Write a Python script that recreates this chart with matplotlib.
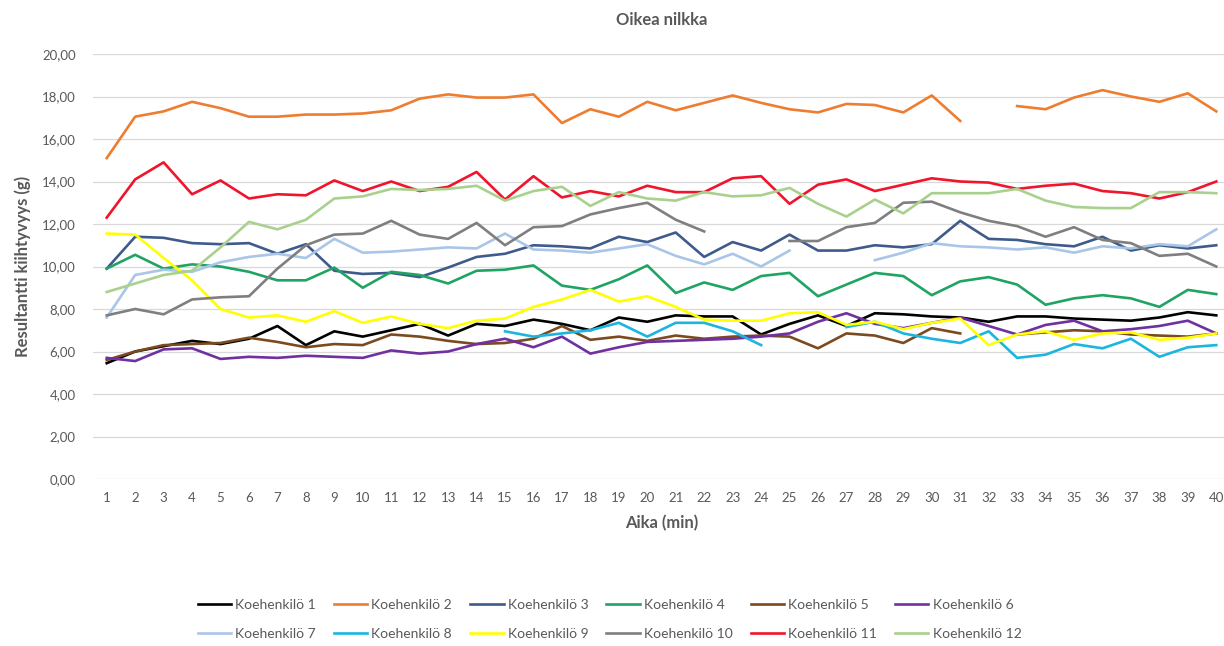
import numpy as np
import matplotlib
matplotlib.use("Agg")
import matplotlib.pyplot as plt
from matplotlib.ticker import FuncFormatter, MultipleLocator

nan = np.nan
minutes = list(range(1, 41))

s1 = [5.45, 6.0, 6.25, 6.5, 6.35, 6.6, 7.2, 6.3, 6.95, 6.7, 7.0, 7.3, 6.75, 7.3, 7.2, 7.5, 7.3, 7.0, 7.6, 7.4,
      7.7, 7.65, 7.65, 6.8, 7.3, 7.7, 7.2, 7.8, 7.75, 7.65, 7.6, 7.4, 7.65, 7.65, 7.55, 7.5, 7.45, 7.6, 7.85, 7.7]
s2 = [15.1, 17.05, 17.3, 17.75, 17.45, 17.05, 17.05, 17.15, 17.15, 17.2, 17.35, 17.9, 18.1, 17.95, 17.95, 18.1, 16.75, 17.4, 17.05, 17.75,
      17.35, 17.7, 18.05, 17.7, 17.4, 17.25, 17.65, 17.6, 17.25, 18.05, 16.85, nan, 17.55, 17.4, 17.95, 18.3, 18.0, 17.75, 18.15, 17.3]
s3 = [9.9, 11.4, 11.35, 11.1, 11.05, 11.1, 10.6, 11.05, 9.8, 9.65, 9.7, 9.5, 9.95, 10.45, 10.6, 11.0, 10.95, 10.85, 11.4, 11.15,
      11.6, 10.45, 11.15, 10.75, 11.5, 10.75, 10.75, 11.0, 10.9, 11.05, 12.15, 11.3, 11.25, 11.05, 10.95, 11.4, 10.75, 11.0, 10.85, 11.0]
s4 = [9.9, 10.55, 9.9, 10.1, 10.0, 9.75, 9.35, 9.35, 9.95, 9.0, 9.75, 9.6, 9.2, 9.8, 9.85, 10.05, 9.1, 8.9, 9.4, 10.05,
      8.75, 9.25, 8.9, 9.55, 9.7, 8.6, 9.15, 9.7, 9.55, 8.65, 9.3, 9.5, 9.15, 8.2, 8.5, 8.65, 8.5, 8.1, 8.9, 8.7]
s5 = [5.6, 6.0, 6.3, 6.35, 6.4, 6.65, 6.45, 6.2, 6.35, 6.3, 6.8, 6.7, 6.5, 6.35, 6.4, 6.6, 7.2, 6.55, 6.7, 6.5,
      6.75, 6.6, 6.7, 6.75, 6.7, 6.15, 6.85, 6.75, 6.4, 7.1, 6.85, nan, 6.8, 6.9, 7.0, 6.95, 6.8, 6.75, 6.7, 6.85]
s6 = [5.7, 5.55, 6.1, 6.15, 5.65, 5.75, 5.7, 5.8, 5.75, 5.7, 6.05, 5.9, 6.0, 6.35, 6.6, 6.2, 6.7, 5.9, 6.2, 6.45,
      6.5, 6.55, 6.6, 6.7, 6.85, 7.4, 7.8, 7.3, 7.1, 7.35, 7.6, 7.2, 6.8, 7.25, 7.45, 6.95, 7.05, 7.2, 7.45, 6.85]
s7 = [7.6, 9.6, 9.85, 9.75, 10.2, 10.45, 10.6, 10.4, 11.3, 10.65, 10.7, 10.8, 10.9, 10.85, 11.55, 10.8, 10.75, 10.65, 10.85, 11.05,
      10.5, 10.1, 10.6, 10.0, 10.75, nan, nan, 10.3, 10.65, 11.1, 10.95, 10.9, 10.8, 10.9, 10.65, 10.95, 10.85, 11.05, 10.95, 11.75]
s8 = [nan, nan, nan, nan, nan, nan, nan, nan, nan, nan, nan, nan, nan, nan, 6.95, 6.7, 6.85, 7.0, 7.35, 6.7,
      7.35, 7.35, 6.95, 6.3, nan, nan, 7.15, 7.4, 6.85, 6.6, 6.4, 6.95, 5.7, 5.85, 6.35, 6.15, 6.6, 5.75, 6.2, 6.3]
s9 = [11.55, 11.5, 10.4, 9.35, 8.0, 7.6, 7.7, 7.4, 7.9, 7.35, 7.65, 7.3, 7.1, 7.45, 7.55, 8.1, 8.45, 8.9, 8.35, 8.6,
      8.1, 7.5, 7.45, 7.45, 7.8, 7.85, 7.25, 7.4, 7.05, 7.35, 7.55, 6.3, 6.8, 6.95, 6.55, 6.85, 6.9, 6.55, 6.65, 6.85]
s10 = [7.7, 8.0, 7.75, 8.45, 8.55, 8.6, 9.9, 11.0, 11.5, 11.55, 12.15, 11.5, 11.3, 12.05, 11.0, 11.85, 11.9, 12.45, 12.75, 13.0,
       12.2, 11.65, nan, nan, 11.2, 11.2, 11.85, 12.05, 13.0, 13.05, 12.55, 12.15, 11.9, 11.4, 11.85, 11.25, 11.1, 10.5, 10.6, 10.0]
s11 = [12.3, 14.1, 14.9, 13.4, 14.05, 13.2, 13.4, 13.35, 14.05, 13.55, 14.0, 13.55, 13.75, 14.45, 13.15, 14.25, 13.25, 13.55, 13.3, 13.8,
       13.5, 13.5, 14.15, 14.25, 12.95, 13.85, 14.1, 13.55, 13.85, 14.15, 14.0, 13.95, 13.65, 13.8, 13.9, 13.55, 13.45, 13.2, 13.5, 14.0]
s12 = [8.8, 9.2, 9.6, 9.8, 10.9, 12.1, 11.75, 12.2, 13.2, 13.3, 13.65, 13.6, 13.65, 13.8, 13.1, 13.55, 13.75, 12.85, 13.5, 13.2,
       13.1, 13.5, 13.3, 13.35, 13.7, 12.95, 12.35, 13.15, 12.5, 13.45, 13.45, 13.45, 13.65, 13.1, 12.8, 12.75, 12.75, 13.5, 13.5, 13.45]

names = [f"Koehenkilö {i}" for i in range(1, 13)]
series = [s1, s2, s3, s4, s5, s6, s7, s8, s9, s10, s11, s12]
colors = ["#000000", "#ED7D31", "#3F5B8C", "#1FA463", "#7B4A1E", "#7030A0",
          "#A9C6E8", "#1CB5E0", "#FFFF00", "#7F7F7F", "#F0142C", "#A9D18E"]

plt.rcParams['font.family'] = ['Lato', 'DejaVu Sans']

W, H = 1224, 646
fig = plt.figure(figsize=(W / 100, H / 100), dpi=100)
ax = fig.add_axes([92.5 / W, 1 - 479 / H, 1138 / W, (479 - 54) / H])

handles = []
for name, vals, c in zip(names, series, colors):
    h, = ax.plot(minutes, vals, color=c, lw=1.9, label=name, solid_joinstyle='round')
    handles.append(h)

ax.set_xlim(0.5, 40.5)
ax.set_ylim(0, 20)
ax.yaxis.set_major_locator(MultipleLocator(2))
ax.yaxis.set_major_formatter(FuncFormatter(lambda v, p: f"{v:.2f}".replace('.', ',')))
ax.set_xticks(minutes)
ax.set_xticklabels([str(m) for m in minutes])
ax.grid(axis='y', color='#D9D9D9', lw=0.9)
ax.set_axisbelow(True)
for sp in ax.spines.values():
    sp.set_visible(False)
ax.tick_params(axis='both', length=0, colors='#595959', labelsize=9.5)
ax.tick_params(axis='y', pad=12)
ax.tick_params(axis='x', pad=9)

ax.set_title("Oikea nilkka", fontsize=12, fontweight='bold', color='#595959', pad=21)
ax.set_xlabel("Aika (min)", fontsize=12, fontweight='bold', color='#595959', labelpad=8)
ax.set_ylabel("Resultantti kiihtyvyys (g)", fontsize=12, fontweight='bold', color='#595959', labelpad=8)

order = []
for i in range(6):
    order += [i, i + 6]
fig.legend([handles[i] for i in order], [names[i] for i in order], ncol=6,
           loc='lower center', bbox_to_anchor=(0.498, -0.01), frameon=False,
           fontsize=10, labelcolor='#595959', handlelength=2.4, handletextpad=0.3,
           columnspacing=1.3, labelspacing=1.25)

fig.savefig("out.png", dpi=100, facecolor='white')
